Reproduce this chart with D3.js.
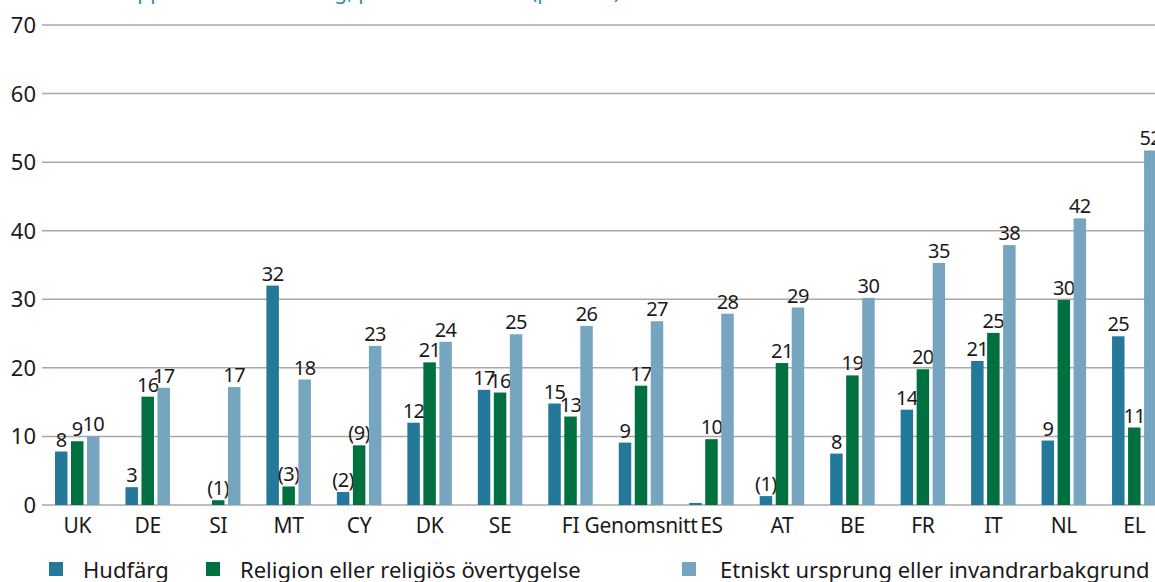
<!DOCTYPE html>
<html lang="sv">
<head>
<meta charset="utf-8">
<title>Diskriminering per land</title>
<script src="https://cdn.jsdelivr.net/npm/d3@7"></script>
<style>
  body { margin: 0; background: #fff; }
  svg { display: block; }
  svg text { font-family: "Noto Sans", sans-serif; fill: #1a1a1a; }
  .grid line { stroke: #a8a8a8; stroke-width: 1.5; }
  .tick-label { font-size: 22px; text-anchor: end; }
  .cat-label { font-size: 21px; text-anchor: middle; letter-spacing: -0.3px; }
  .val { font-size: 20px; text-anchor: middle; letter-spacing: -0.6px; }
  .legend text { font-size: 22px; }
  .title { font-size: 21px; fill: #2f8db0 !important; }
</style>
</head>
<body>
<svg width="1155" height="582"></svg>
<script>
var countries = ["UK", "DE", "SI", "MT", "CY", "DK", "SE", "FI", "Genomsnitt", "ES", "AT", "BE", "FR", "IT", "NL", "EL"];
var seriesNames = ["Hudfärg", "Religion eller religiös övertygelse", "Etniskt ursprung eller invandrarbakgrund"];
var colors = ["#24789a", "#007040", "#76a6bf"];

var hudfarg   = [7.8, 2.6, 0, 32, 1.9, 12, 16.8, 14.8, 9.1, 0.3, 1.3, 7.5, 13.9, 21, 9.4, 24.6];
var religion  = [9.3, 15.8, 0.7, 2.7, 8.7, 20.8, 16.4, 12.9, 17.4, 9.6, 20.7, 18.9, 19.8, 25.1, 29.9, 11.3];
var etniskt   = [10, 17.1, 17.2, 18.3, 23.2, 23.8, 24.9, 26.1, 26.8, 27.9, 28.8, 30.2, 35.3, 37.9, 41.8, 51.7];

var hudfargLabels  = ["8", "3", "", "32", "(2)", "12", "17", "15", "9", "", "(1)", "8", "14", "21", "9", "25"];
var religionLabels = ["9", "16", "(1)", "(3)", "(9)", "21", "16", "13", "17", "10", "21", "19", "20", "25", "30", "11"];
var etnisktLabels  = ["10", "17", "17", "18", "23", "24", "25", "26", "27", "28", "29", "30", "35", "38", "42", "52"];

var yTicks = [0, 10, 20, 30, 40, 50, 60, 70];

(function() {
  var series = [
    { name: seriesNames[0], values: hudfarg, labels: hudfargLabels },
    { name: seriesNames[1], values: religion, labels: religionLabels },
    { name: seriesNames[2], values: etniskt, labels: etnisktLabels }
  ];

  var svg = d3.select("svg");
  var marginLeft = 42, marginTop = 25, baseY = 505;

  var y = d3.scaleLinear().domain([0, 70]).range([baseY, marginTop]);
  var x = d3.scaleBand().domain(countries).range([marginLeft, marginLeft + 16 * 70.47]);
  var xs = d3.scaleBand().domain(d3.range(3)).range([13, 57.5]).paddingInner(0.22).paddingOuter(0);

  // title, cut off at the top of the picture
  svg.append("text").attr("class", "title")
    .attr("x", 620).attr("y", -1).attr("text-anchor", "end")
    .text("Andel som upplevt diskriminering, per medlemsstat (procent)");

  // grid lines
  svg.append("g").attr("class", "grid")
    .selectAll("line").data(yTicks).enter().append("line")
    .attr("x1", marginLeft).attr("x2", 1155)
    .attr("y1", function(d) { return y(d); })
    .attr("y2", function(d) { return y(d); });

  svg.append("g").selectAll("text").data(yTicks).enter().append("text")
    .attr("class", "tick-label")
    .attr("x", 36)
    .attr("y", function(d) { return y(d) + 8; })
    .text(function(d) { return d; });

  // bars
  var groups = svg.append("g").selectAll("g").data(series).enter().append("g");

  groups.selectAll("rect")
    .data(function(s, i) { return s.values.map(function(v, j) { return { s: i, c: countries[j], v: v }; }); })
    .enter().append("rect")
    .attr("x", function(d) { return x(d.c) + xs(d.s); })
    .attr("width", xs.bandwidth())
    .attr("y", function(d) { return y(d.v); })
    .attr("height", function(d) { return baseY - y(d.v); })
    .attr("fill", function(d) { return colors[d.s]; });

  groups.selectAll("text")
    .data(function(s, i) { return s.values.map(function(v, j) { return { s: i, c: countries[j], v: v, l: s.labels[j] }; }); })
    .enter().append("text")
    .attr("class", "val")
    .attr("x", function(d) { return x(d.c) + xs(d.s) + xs.bandwidth() / 2; })
    .attr("y", function(d) { return y(d.v) - 5; })
    .text(function(d) { return d.l; });

  // x labels
  svg.append("g").selectAll("text").data(countries).enter().append("text")
    .attr("class", "cat-label")
    .attr("x", function(d) { return x(d) + xs(1) + xs.bandwidth() / 2; })
    .attr("y", 533)
    .text(function(d) { return d; });

  // legend
  var legendX = [49, 206, 682];
  var legendTextX = [83, 240, 720];
  var legend = svg.append("g").attr("class", "legend")
    .selectAll("g").data(series).enter().append("g");
  legend.append("rect")
    .attr("x", function(d, i) { return legendX[i]; })
    .attr("y", 562).attr("width", 14).attr("height", 14)
    .attr("fill", function(d, i) { return colors[i]; });
  legend.append("text")
    .attr("x", function(d, i) { return legendTextX[i]; })
    .attr("y", 578)
    .text(function(d) { return d.name; });
})();
</script>
</body>
</html>
